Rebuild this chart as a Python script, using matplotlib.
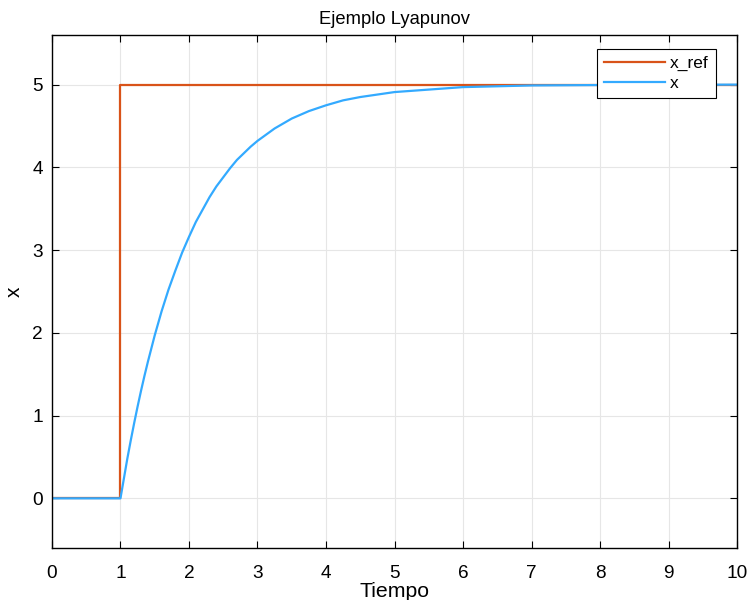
import matplotlib.pyplot as plt

plt.rcParams['font.family'] = ['Liberation Sans', 'DejaVu Sans']

# Reference signal (step at t = 1)
t_ref = [0, 1, 1, 10]
x_ref = [0, 0, 5, 5]

# System response
t_x = [0, 1.0, 1.05, 1.1, 1.15, 1.2, 1.25, 1.3, 1.35, 1.4, 1.5, 1.6, 1.7, 1.8,
       1.9, 2.0, 2.1, 2.2, 2.3, 2.4, 2.5, 2.6, 2.7, 2.8, 2.9, 3.0, 3.25, 3.5,
       3.75, 4.0, 4.25, 4.5, 4.75, 5.0, 5.5, 6.0, 6.5, 7.0, 8.0, 9.0, 10.0]
x_val = [0, 0, 0.24, 0.48, 0.70, 0.91, 1.11, 1.30, 1.48, 1.65, 1.97, 2.26,
         2.52, 2.75, 2.97, 3.16, 3.34, 3.49, 3.64, 3.77, 3.88, 3.99, 4.09,
         4.17, 4.25, 4.32, 4.47, 4.59, 4.68, 4.75, 4.81, 4.85, 4.88, 4.91,
         4.94, 4.97, 4.98, 4.99, 4.995, 4.998, 5.0]

fig = plt.figure(figsize=(7.51, 6.0), dpi=100)
ax = fig.add_axes([0.0692, 0.0867, 0.9122, 0.855])

ax.plot(t_ref, x_ref, color='#D95319', linewidth=1.6, label='x_ref')
ax.plot(t_x, x_val, color='#33AAFF', linewidth=1.6, label='x')

ax.set_xlim(0, 10)
ax.set_ylim(-0.6, 5.6)
ax.set_xticks(range(0, 11))
ax.set_yticks(range(0, 6))
ax.grid(True, color='#E6E6E6', linewidth=0.8)
ax.tick_params(direction='in', top=True, right=True, labelsize=13.7, length=5)
ax.tick_params(axis='x', pad=12)
ax.tick_params(axis='y', pad=6.5)
for s in ax.spines.values():
    s.set_linewidth(1.0)

ax.set_title('Ejemplo Lyapunov', fontsize=13.2, pad=8)
ax.set_xlabel('Tiempo', fontsize=15.3, labelpad=0)
ax.set_ylabel('x', fontsize=15, labelpad=6)

leg = ax.legend(loc='upper right', fontsize=12.5, handlelength=3.5, fancybox=False,
                edgecolor='black', framealpha=1, borderpad=0.4, labelspacing=0.3,
                handletextpad=0.3, borderaxespad=0, bbox_to_anchor=(0.969, 0.973))
leg.get_frame().set_linewidth(0.8)

fig.savefig('out.png', dpi=100)
